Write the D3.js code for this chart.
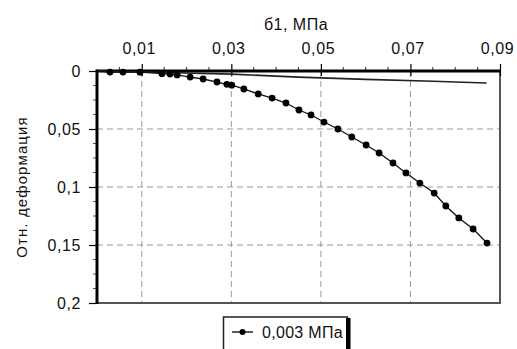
<!DOCTYPE html>
<html><head><meta charset="utf-8">
<script src="https://cdn.jsdelivr.net/npm/d3@7"></script>
<style>
html,body{margin:0;padding:0;background:#fff;}
svg{display:block;font-family:"Liberation Sans",Arial,sans-serif;}
</style></head>
<body><svg id="c" width="517" height="349"></svg>
<script>
// Data
const xTicks = [0.01, 0.03, 0.05, 0.07, 0.09];
const yTicks = [0, 0.05, 0.1, 0.15, 0.2];
const xTitle = "б1, МПа";
const yTitle = "Отн. деформация";
const legendLabel = "0,003 МПа";
// main series (with markers)
const seriesX = [0, 0.0029, 0.0058, 0.0096, 0.0145, 0.0163, 0.0179, 0.0208, 0.0237, 0.0268, 0.0290, 0.0301, 0.0328, 0.0360, 0.0391, 0.0422, 0.0451, 0.0478, 0.0507, 0.0538, 0.0569, 0.0601, 0.0630, 0.0661, 0.0690, 0.0721, 0.0753, 0.0779, 0.0808, 0.0840, 0.0871];
const seriesY = [0, 0.0009, 0.0009, 0.0010, 0.0023, 0.0026, 0.0034, 0.0052, 0.0069, 0.0095, 0.0115, 0.0122, 0.0155, 0.0198, 0.0233, 0.0276, 0.0336, 0.0379, 0.0440, 0.0500, 0.0569, 0.0638, 0.0707, 0.0793, 0.0879, 0.0966, 0.1052, 0.1164, 0.1267, 0.1362, 0.1483];
// second series (thin line, no markers)
const line2X = [0, 0.015, 0.030, 0.045, 0.060, 0.075, 0.087];
const line2Y = [0, 0.0013, 0.0027, 0.0053, 0.0072, 0.0089, 0.0103];

const svg = d3.select("#c");
const x = d3.scaleLinear().domain([0, 0.09]).range([97, 500]);
const y = d3.scaleLinear().domain([0, 0.2]).range([71, 303]);
const fmt = d => String(+d.toFixed(3)).replace(".", ",");

// grid
const grid = svg.append("g").attr("stroke", "#9a9a9a").attr("stroke-width", 1).attr("stroke-dasharray", "6,4");
xTicks.filter(v => v < 0.09).forEach(v => grid.append("line").attr("x1", x(v)).attr("x2", x(v)).attr("y1", y(0)).attr("y2", y(0.2)));
yTicks.filter(v => v > 0 && v < 0.2).forEach(v => grid.append("line").attr("x1", x(0)).attr("x2", x(0.09)).attr("y1", y(v)).attr("y2", y(v)));

// frame right & bottom
svg.append("line").attr("x1", x(0.09)).attr("x2", x(0.09)).attr("y1", y(0) - 1).attr("y2", y(0.2) + 1).attr("stroke", "#555").attr("stroke-width", 2);
svg.append("line").attr("x1", x(0) ).attr("x2", x(0.09) + 1).attr("y1", y(0.2)).attr("y2", y(0.2)).attr("stroke", "#555").attr("stroke-width", 2);

// top axis
const xAxis = d3.axisTop(x).tickValues(xTicks).tickFormat(fmt).tickSize(7).tickPadding(10);
const gx = svg.append("g").attr("transform", `translate(0,${y(0)})`).call(xAxis);
gx.select(".domain").remove();
gx.selectAll(".tick line").attr("stroke", "#000").attr("stroke-width", 1.2).attr("y2", -7).attr("y1", 5);
gx.selectAll(".tick text").attr("font-size", 16).attr("fill", "#111").attr("letter-spacing", "0.6").attr("dx", "-3").attr("font-family", "Liberation Sans, Arial, sans-serif");
const xMinor = d3.range(0.005, 0.09, 0.005).filter(v => !xTicks.some(t => Math.abs(t - v) < 1e-6));
xMinor.forEach(v => svg.append("line").attr("x1", x(v)).attr("x2", x(v)).attr("y1", y(0) - 4).attr("y2", y(0)).attr("stroke", "#333"));

// left axis
const yAxis = d3.axisLeft(y).tickValues(yTicks).tickFormat(fmt).tickSize(8).tickPadding(8);
const gy = svg.append("g").attr("transform", `translate(${x(0)},0)`).call(yAxis);
gy.select(".domain").remove();
gy.selectAll(".tick line").attr("stroke", "#000").attr("stroke-width", 1.2);
gy.selectAll(".tick text").attr("font-size", 16).attr("fill", "#111").attr("letter-spacing", "0.6").attr("font-family", "Liberation Sans, Arial, sans-serif");
const yMinor = d3.range(0.0125, 0.2, 0.0125).filter(v => !yTicks.some(t => Math.abs(t - v) < 1e-6));
yMinor.forEach(v => svg.append("line").attr("x1", x(0) - 4).attr("x2", x(0)).attr("y1", y(v)).attr("y2", y(v)).attr("stroke", "#555"));

// thick axis lines
svg.append("line").attr("x1", x(0)).attr("x2", x(0.09) + 1).attr("y1", y(0)).attr("y2", y(0)).attr("stroke", "#000").attr("stroke-width", 3);
svg.append("line").attr("x1", x(0)).attr("x2", x(0)).attr("y1", y(0) - 1.5).attr("y2", y(0.2) + 1).attr("stroke", "#000").attr("stroke-width", 3);

// titles
svg.append("text").attr("x", 296).attr("y", 30).attr("text-anchor", "middle").attr("font-size", 16).attr("fill", "#111").attr("letter-spacing", "0.5").text(xTitle);
svg.append("text").attr("transform", "translate(27,187) rotate(-90)").attr("text-anchor", "middle").attr("font-size", 15).attr("fill", "#111").attr("letter-spacing", "1.1").text(yTitle);

// series 2
const line = d3.line().x((d, i) => x(d[0])).y(d => y(d[1]));
svg.append("path").datum(line2X.map((v, i) => [v, line2Y[i]])).attr("d", line).attr("fill", "none").attr("stroke", "#222").attr("stroke-width", 1.6);

// main series
const pts = seriesX.map((v, i) => [v, seriesY[i]]);
svg.append("path").datum(pts).attr("d", line).attr("fill", "none").attr("stroke", "#111").attr("stroke-width", 1.3);
svg.append("g").selectAll("circle").data(pts.slice(1)).join("circle")
  .attr("cx", d => x(d[0])).attr("cy", d => y(d[1])).attr("r", 3.4).attr("fill", "#000");

// legend
const lg = svg.append("g");
lg.append("rect").attr("x", 223.5).attr("y", 317).attr("width", 124).attr("height", 40).attr("fill", "#fff").attr("stroke", "#222").attr("stroke-width", 1.5);
lg.append("rect").attr("x", 346).attr("y", 318).attr("width", 4.5).attr("height", 31).attr("fill", "#000");
lg.append("line").attr("x1", 232).attr("x2", 253).attr("y1", 332).attr("y2", 332).attr("stroke", "#000").attr("stroke-width", 1.3);
lg.append("circle").attr("cx", 242.5).attr("cy", 332).attr("r", 3).attr("fill", "#000");
lg.append("text").attr("x", 262).attr("y", 338).attr("font-size", 16).attr("fill", "#111").attr("letter-spacing", "0.3").text(legendLabel);
</script></body></html>
